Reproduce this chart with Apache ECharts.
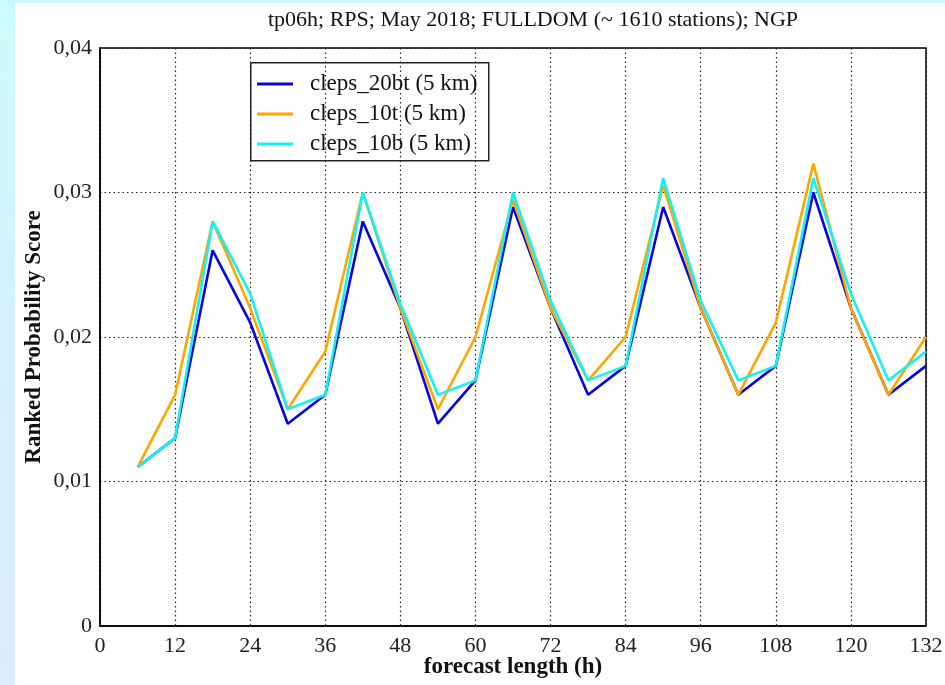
<!DOCTYPE html>
<html>
<head>
<meta charset="utf-8">
<script src="https://cdn.jsdelivr.net/npm/echarts@6/dist/echarts.min.js"></script>
<style>
  html, body { margin: 0; padding: 0; }
  #wrap { position: relative; width: 945px; height: 685px;
    background: linear-gradient(to bottom, #ccfafc 0%, #d6f2fa 50%, #dcecf8 100%); }
  #panel { position: absolute; left: 15px; top: 3px; right: 0; bottom: 0; background: #ffffff; }
  #chart { position: absolute; left: 0; top: 0; width: 945px; height: 685px; }
</style>
</head>
<body>
<div id="wrap"><div id="panel"></div><div id="chart"></div></div>
<script>
const forecastHours = [6, 12, 18, 24, 30, 36, 42, 48, 54, 60, 66, 72, 78, 84, 90, 96, 102, 108, 114, 120, 126, 132];
const cleps20bt = [0.011, 0.013, 0.026, 0.021, 0.014, 0.016, 0.028, 0.022, 0.014, 0.017, 0.029, 0.022, 0.016, 0.018, 0.029, 0.022, 0.016, 0.018, 0.030, 0.022, 0.016, 0.018];
const cleps10t  = [0.011, 0.016, 0.028, 0.022, 0.015, 0.019, 0.030, 0.022, 0.015, 0.020, 0.0295, 0.022, 0.017, 0.020, 0.0305, 0.022, 0.016, 0.021, 0.032, 0.022, 0.016, 0.020];
const cleps10b  = [0.011, 0.013, 0.028, 0.023, 0.015, 0.016, 0.030, 0.0223, 0.016, 0.017, 0.030, 0.0225, 0.017, 0.018, 0.031, 0.0225, 0.017, 0.018, 0.031, 0.023, 0.017, 0.019];
const seriesNames = ['cleps_20bt (5 km)', 'cleps_10t (5 km)', 'cleps_10b (5 km)'];
const seriesColors = ['#0505e0', '#ffa500', '#12f2f2'];
const titleText = 'tp06h; RPS; May 2018; FULLDOM (~ 1610 stations); NGP';

const serif = 'Liberation Serif, DejaVu Serif, serif';
function pairs(vals) { return forecastHours.map((h, i) => [h, vals[i]]); }
const allVals = [cleps20bt, cleps10t, cleps10b];

const chart = echarts.init(document.getElementById('chart'), null, { renderer: 'canvas' });
const dotted = { type: [1.5, 3], color: '#222', width: 1.2 };
chart.setOption({
  backgroundColor: 'transparent',
  animation: false,
  title: {
    text: titleText, left: 528, top: 4, textAlign: 'center',
    textStyle: { fontFamily: serif, fontSize: 22, fontWeight: 'normal', color: '#111' }
  },
  grid: { left: 100, right: 19, top: 48, bottom: 59, show: true, borderColor: '#000', borderWidth: 1.5,
    containLabel: false, outerBoundsMode: 'none' },
  xAxis: {
    type: 'value', min: 0, max: 132, interval: 12,
    name: 'forecast length (h)', nameLocation: 'middle', nameGap: 30, nameMoveOverlap: false,
    nameTextStyle: { fontFamily: serif, fontSize: 23, fontWeight: 'bold', color: '#111' },
    axisLine: { show: true, lineStyle: { color: '#000', width: 1.5 } },
    axisTick: { show: false },
    axisLabel: { fontFamily: serif, fontSize: 22, color: '#222', margin: 9 },
    splitLine: { show: true, lineStyle: dotted }
  },
  yAxis: {
    type: 'value', min: 0, max: 0.04, interval: 0.01,
    name: 'Ranked Probability Score', nameLocation: 'middle', nameGap: 54, nameMoveOverlap: false,
    nameTextStyle: { fontFamily: serif, fontSize: 23, fontWeight: 'bold', color: '#111' },
    axisLine: { show: true, lineStyle: { color: '#000', width: 1.5 } },
    axisTick: { show: false },
    axisLabel: { fontFamily: serif, fontSize: 22, color: '#222', margin: 8,
      formatter: v => (v === 0 ? '0' : v.toFixed(2).replace('.', ',')) },
    splitLine: { show: true, lineStyle: dotted }
  },
  legend: {
    orient: 'vertical', left: 252, top: 67,
    itemWidth: 36, itemHeight: 3, itemGap: 6, icon: 'rect',
    textStyle: { fontFamily: serif, fontSize: 23, color: '#111', lineHeight: 24, padding: [0, 0, 0, 12] },
    data: seriesNames
  },
  graphic: [{
    type: 'rect', left: 250, top: 62, z: 100,
    shape: { width: 238, height: 98 },
    style: { fill: 'transparent', stroke: '#222', lineWidth: 1.5 }
  }],
  series: seriesNames.map((n, i) => ({
    name: n, type: 'line', data: pairs(allVals[i]),
    showSymbol: false, symbol: 'none',
    lineStyle: { color: seriesColors[i], width: 2.6 },
    itemStyle: { color: seriesColors[i] },
    z: 2 + i
  }))
});
</script>
</body>
</html>
